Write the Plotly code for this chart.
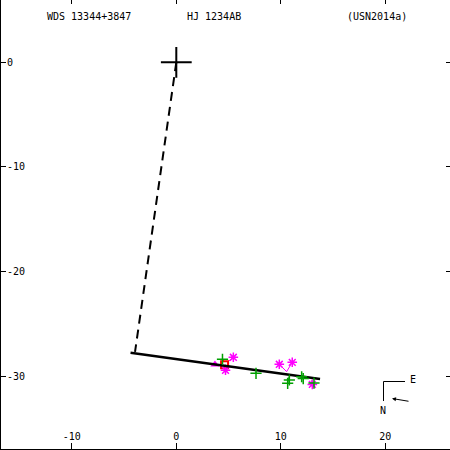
import plotly.graph_objects as go

# ---- data (arcsec offsets, x = East-West, y = North-South) ----
star_x = [0.0]
star_y = [0.0]

dash_x = [0.0, -3.95]
dash_y = [0.0, -27.70]

orbit_x = [-4.38, 13.76]
orbit_y = [-27.77, -30.29]

green_x = [4.42, 7.63, 10.82, 10.66, 12.00, 12.15, 13.18]
green_y = [-28.40, -29.74, -30.38, -30.70, -30.07, -30.25, -30.68]
green_px = [4.55, 7.63, 10.85, 10.80, 11.95, 12.10, 12.95]
green_py = [-28.55, -29.60, -30.00, -30.05, -30.15, -30.25, -30.45]

mag_x = [5.46, 4.71, 9.86, 11.10, 13.02]
mag_y = [-28.21, -29.45, -28.88, -28.69, -30.80]
mag_px = [4.95, 4.70, 10.56, 10.56, 12.90]
mag_py = [-28.63, -28.90, -29.58, -29.58, -30.45]

tri_x = [3.70]
tri_y = [-28.90]

red_x = [4.62]
red_y = [-28.92]

xtick_vals = [-10, 0, 10, 20]
xtick_text = ["-10", "0", "10", "20"]
ytick_vals = [0, -10, -20, -30]
ytick_text = ["0", "-10", "-20", "-30"]

title_texts = ["WDS 13344+3847", "HJ 1234AB", "(USN2014a)"]

FONT = "DejaVu Sans Mono"
W = H = 450
ML, MR, MT, MB = 1, 0, 0, 1
PW, PH = W - ML - MR, H - MT - MB


def px(p):
    return (p - ML) / PW


def py(p):
    return 1 - (p - MT) / PH


def seg(xs, ys, pxs, pys):
    lx, ly = [], []
    for a, b, c, d in zip(xs, ys, pxs, pys):
        lx += [a, c, None]
        ly += [b, d, None]
    return lx, ly


fig = go.Figure()

mlx, mly = seg(mag_x, mag_y, mag_px, mag_py)
fig.add_trace(go.Scatter(x=mlx, y=mly, mode="lines",
                         line=dict(color="#ff00ff", width=1), hoverinfo="skip"))
glx, gly = seg(green_x, green_y, green_px, green_py)
fig.add_trace(go.Scatter(x=glx, y=gly, mode="lines",
                         line=dict(color="#00a000", width=1), hoverinfo="skip"))

fig.add_trace(go.Scatter(x=red_x, y=red_y, mode="markers",
                         marker=dict(symbol="square-open", size=7, color="#ff0000",
                                     line=dict(width=2, color="#ff0000"))))
fig.add_trace(go.Scatter(x=tri_x, y=tri_y, mode="markers",
                         marker=dict(symbol="triangle-up", size=8, color="#ff00ff")))
fig.add_trace(go.Scatter(x=mag_x, y=mag_y, mode="markers",
                         marker=dict(symbol="asterisk-open", size=8, color="#ff00ff",
                                     line=dict(width=1.5, color="#ff00ff"))))

fig.add_trace(go.Scatter(x=dash_x, y=dash_y, mode="lines",
                         line=dict(color="black", width=2, dash="9px,6px")))
fig.add_trace(go.Scatter(x=orbit_x, y=orbit_y, mode="lines",
                         line=dict(color="black", width=2.5)))

fig.add_trace(go.Scatter(x=green_x, y=green_y, mode="markers",
                         marker=dict(symbol="cross-thin-open", size=8, color="#00a000",
                                     line=dict(width=1.5, color="#00a000"))))
fig.add_trace(go.Scatter(x=star_x, y=star_y, mode="markers",
                         marker=dict(symbol="cross-thin-open", size=22, color="black",
                                     line=dict(width=2, color="black"))))

# invisible trace for mirrored tick axes
fig.add_trace(go.Scatter(x=[None], y=[None], xaxis="x2", yaxis="y2",
                         mode="markers", hoverinfo="skip"))

xr = [(ML - 176.3) / 10.447, (W - MR - 176.3) / 10.447]
yr = [-(H - MB - 62.3) / 10.457, 62.3 / 10.457]

axfont = dict(family=FONT, size=10, color="black")
fig.update_layout(
    width=W, height=H,
    margin=dict(l=ML, r=MR, t=MT, b=MB),
    paper_bgcolor="white", plot_bgcolor="white",
    showlegend=False,
    xaxis=dict(range=xr, showgrid=False, zeroline=False, showline=True,
               linecolor="black", linewidth=1, ticks="inside", ticklen=6,
               tickcolor="black", tickvals=xtick_vals, ticktext=xtick_text,
               ticklabelposition="inside", tickfont=axfont, fixedrange=True),
    yaxis=dict(range=yr, showgrid=False, zeroline=False, showline=True,
               linecolor="black", linewidth=1, ticks="inside", ticklen=5,
               tickcolor="black", tickvals=ytick_vals, ticktext=ytick_text,
               ticklabelposition="inside", tickfont=axfont, fixedrange=True),
    xaxis2=dict(range=xr, overlaying="x", side="top", anchor="y2", matches="x",
                showgrid=False, zeroline=False, showline=False, ticks="inside",
                ticklen=4, tickcolor="black", tickvals=xtick_vals,
                showticklabels=False),
    yaxis2=dict(range=yr, overlaying="y", side="right", anchor="x2", matches="y",
                showgrid=False, zeroline=False, showline=False, ticks="inside",
                ticklen=4, tickcolor="black", tickvals=ytick_vals,
                showticklabels=False),
)

for txt, xl in zip(title_texts, [45, 185, 345]):
    fig.add_annotation(x=px(xl), y=py(17), xref="paper", yref="paper",
                       text=txt, showarrow=False, xanchor="left", yanchor="middle",
                       font=dict(family=FONT, size=10, color="black"))

# compass
fig.add_shape(type="line", xref="paper", yref="paper",
              x0=px(383.5), y0=py(381.5), x1=px(405), y1=py(381.5),
              line=dict(color="black", width=1))
fig.add_shape(type="line", xref="paper", yref="paper",
              x0=px(383.5), y0=py(381.5), x1=px(383.5), y1=py(401),
              line=dict(color="black", width=1))
fig.add_annotation(x=px(413), y=py(379.5), xref="paper", yref="paper", text="E",
                   showarrow=False, xanchor="center", yanchor="middle",
                   font=dict(family=FONT, size=10, color="black"))
fig.add_annotation(x=px(383), y=py(410.5), xref="paper", yref="paper", text="N",
                   showarrow=False, xanchor="center", yanchor="middle",
                   font=dict(family=FONT, size=10, color="black"))
fig.add_annotation(x=px(392), y=py(398.5), xref="paper", yref="paper", text="",
                   showarrow=True, ax=18, ay=3, arrowhead=2, arrowsize=0.8,
                   arrowwidth=1, arrowcolor="black")

fig.write_html("out.html", post_script="document.body.style.margin='0';",
               config={"displayModeBar": False})
